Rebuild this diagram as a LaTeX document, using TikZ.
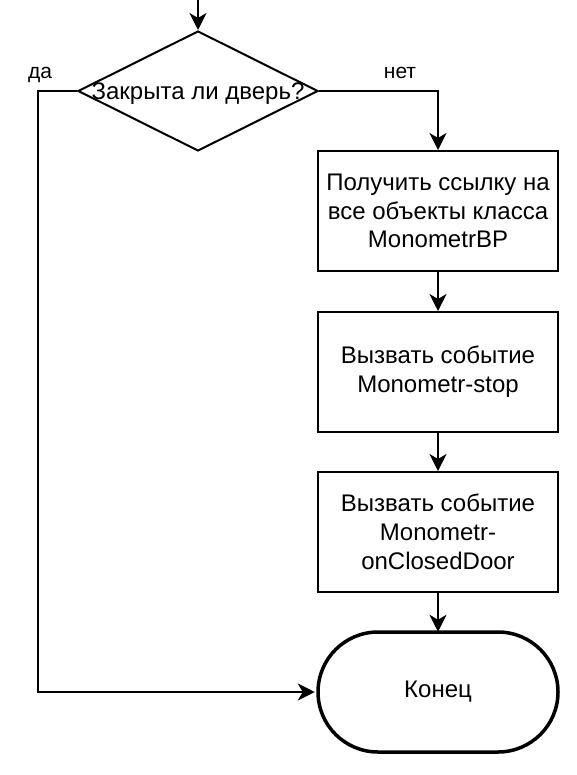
\documentclass[tikz,border=0pt]{standalone}
\usepackage{fontspec}
\setmainfont{Liberation Sans}
\usetikzlibrary{arrows.meta,shapes.geometric}
\tikzset{
  every picture/.style={x=1pt,y=-1pt},
  conn/.style={line width=2pt,-{Stealth[length=17pt,width=17pt,inset=5pt]}},
  procbox/.style={draw,line width=2pt,minimum width=240pt,minimum height=120pt,inner sep=0pt,align=center,font=\fontsize{24}{28.8}\selectfont},
  termbox/.style={draw,line width=3.5pt,rounded corners=60pt,minimum width=240pt,minimum height=120pt,inner sep=0pt,font=\fontsize{24}{28.8}\selectfont},
  decbox/.style={draw,diamond,line width=2pt,minimum width=240pt,minimum height=120pt,inner sep=0pt},
  maintext/.style={font=\fontsize{24}{28.8}\selectfont,inner sep=0pt},
  edgelabel/.style={font=\fontsize{21}{25}\selectfont,inner sep=0pt,anchor=base}
}
\begin{document}
\begin{tikzpicture}
\useasboundingbox (0,0) rectangle (576,775);
\fill[white] (0,0) rectangle (576,775);
\coordinate (start) at (198,0);
\node[decbox] (dec) at (198,91) {};
\node[maintext,anchor=base] (dectext) at (198,100) {Закрыта ли дверь?};
\node[procbox] (b1) at (438,211) {Получить ссылку на\\все объекты класса\\MonometrBP};
\node[procbox] (b2) at (438,372) {Вызвать событие\\Monometr-stop};
\node[procbox] (b3) at (438,532) {Вызвать событие\\Monometr-\\onClosedDoor};
\node[termbox] (term) at (438,692) {Конец};
\coordinate (yesc) at (38,91);
\node[edgelabel] (yes) at (40,79) {да};
\node[edgelabel] (no) at (400,79) {нет};
\draw[conn] (start) -- (dec.north);
\draw[conn] (dec.west) -- (yesc) |- ([xshift=-1.5pt]term.west);
\draw[conn] (dec.east) -| (b1.north);
\draw[conn] (b1.south) -- (b2.north);
\draw[conn] (b2.south) -- (b3.north);
\draw[conn] (b3.south) -- ([yshift=-1.5pt]term.north);
\end{tikzpicture}
\end{document}
